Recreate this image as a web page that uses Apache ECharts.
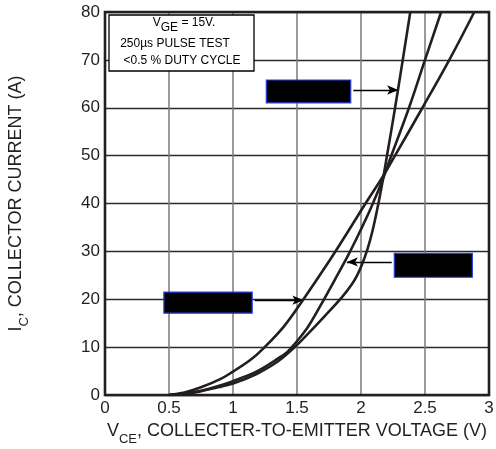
<!DOCTYPE html>
<html>
<head>
<meta charset="utf-8">
<script src="https://cdn.jsdelivr.net/npm/echarts@6/dist/echarts.min.js"></script>
<style>
html,body{margin:0;padding:0;background:#fff;}
#chart{width:496px;height:449px;}
</style>
</head>
<body>
<div id="chart"></div>
<script>
// Curve C (highest at low voltage, rightmost at top)
const curveC_x = [0.5, 0.62, 0.75, 0.9, 1.0, 1.135, 1.24, 1.4, 1.54, 1.757, 1.9, 2.04, 2.17, 2.27, 2.48, 2.69, 2.885];
const curveC_y = [0, 0.5, 1.6, 3.3, 4.9, 7.3, 9.8, 14.4, 19.6, 28.2, 34.2, 40.2, 45.6, 50.2, 60, 70, 80];
// Curve B (middle)
const curveB_x = [0.5, 0.62, 0.75, 0.9, 1.0, 1.135, 1.213, 1.35, 1.42, 1.47, 1.58, 1.68, 1.79, 1.90, 2.00, 2.08, 2.17, 2.23, 2.375, 2.50, 2.626];
const curveB_y = [0, 0.3, 0.9, 2.0, 2.9, 4.3, 5.3, 7.6, 8.9, 10.3, 14.0, 18.5, 23.8, 29.2, 34.6, 39.2, 45, 49.5, 60, 70, 80];
// Curve A (steepest)
const curveA_x = [0.5, 0.62, 0.75, 0.9, 1.0, 1.135, 1.213, 1.35, 1.47, 1.6, 1.72, 1.85, 1.93, 1.97, 2.01, 2.05, 2.09, 2.13, 2.17, 2.20, 2.265, 2.325, 2.385];
const curveA_y = [0, 0.2, 0.8, 1.7, 2.4, 3.8, 4.8, 7.0, 9.7, 13.2, 16.6, 20.4, 23.2, 25.0, 27.4, 30.4, 34.3, 39.2, 44.8, 49.5, 59.8, 69.8, 80];

const xTicks = ['0', '0.5', '1', '1.5', '2', '2.5', '3'];
const yTicks = ['0', '10', '20', '30', '40', '50', '60', '70', '80'];

function pairs(xs, ys) { return xs.map((x, i) => [x, ys[i]]); }

const ink = '#231f20';
const FONT = 'Liberation Sans, Arial, sans-serif';
const boxStyle = { color: '#000', borderColor: '#2a3fe0', borderWidth: 1.2, opacity: 1 };

const chart = echarts.init(document.getElementById('chart'));
const lineCommon = {
  type: 'line', showSymbol: false, smooth: 0.4,
  lineStyle: { color: ink, width: 2.6 }, z: 5, silent: true
};

const richName = {
  a: { fontSize: 18, color: ink, fontFamily: FONT, lineHeight: 24, verticalAlign: 'top' },
  s: { fontSize: 13, color: ink, fontFamily: FONT, lineHeight: 14, verticalAlign: 'bottom' }
};

chart.setOption({
  animation: false,
  backgroundColor: '#fff',
  grid: { left: 105, right: 7, top: 12, bottom: 54, show: false, containLabel: false, outerBoundsMode: 'none' },
  xAxis: {
    type: 'value', min: 0, max: 3, interval: 0.5,
    axisLine: { show: false },
    axisTick: { show: false },
    splitLine: { show: true, lineStyle: { color: '#7a7a7a', width: 1.5 } },
    axisLabel: {
      fontFamily: FONT, fontSize: 17, color: ink, margin: 5,
      formatter: v => xTicks[Math.round(v / 0.5)]
    },
    name: '{a|V}{s|CE}{a|, COLLECTER-TO-EMITTER VOLTAGE (V)}',
    nameLocation: 'middle', nameGap: 24,
    nameTextStyle: { fontFamily: FONT, color: ink, rich: richName }
  },
  yAxis: {
    type: 'value', min: 0, max: 80, interval: 10,
    axisLine: { show: false },
    axisTick: { show: false },
    splitLine: { show: true, lineStyle: { color: '#2a2a2a', width: 1.3 } },
    axisLabel: {
      fontFamily: FONT, fontSize: 17, color: ink, margin: 5,
      formatter: v => yTicks[Math.round(v / 10)]
    },
    name: '{a|I}{s|C}{a|, COLLECTOR CURRENT (A)}',
    nameLocation: 'middle', nameGap: 74, nameRotate: 90,
    nameTextStyle: { fontFamily: FONT, color: ink, rich: richName }
  },
  series: [
    Object.assign({}, lineCommon, { name: 'C', data: pairs(curveC_x, curveC_y) }),
    Object.assign({}, lineCommon, { name: 'B', data: pairs(curveB_x, curveB_y) }),
    Object.assign({}, lineCommon, {
      name: 'A', data: pairs(curveA_x, curveA_y),
      markArea: {
        silent: true,
        itemStyle: boxStyle,
        data: [
          [{ coord: [1.26, 65.8] }, { coord: [1.92, 61.0] }],
          [{ coord: [2.26, 29.6] }, { coord: [2.87, 24.6] }],
          [{ coord: [0.46, 21.5] }, { coord: [1.15, 17.1] }]
        ]
      },
      markLine: {
        silent: true,
        symbol: ['none', 'arrow'], symbolSize: [7, 11],
        label: { show: false },
        lineStyle: { color: '#000', width: 1.3, type: 'solid' },
        data: [
          [{ coord: [1.94, 63.7] }, { coord: [2.29, 63.7] }],
          [{ coord: [2.24, 27.8] }, { coord: [1.89, 27.8] }],
          [{ coord: [1.17, 19.8] }, { coord: [1.55, 19.8] }]
        ]
      }
    })
  ],
  graphic: [
    {
      type: 'rect', z: 50,
      shape: { x: 105, y: 12, width: 384, height: 383 },
      style: { fill: 'none', stroke: ink, lineWidth: 2.6 }
    },
    { type: 'rect', z: 60, shape: { x: 109, y: 15, width: 145, height: 56 },
      style: { fill: '#fff', stroke: '#000', lineWidth: 1.3 } },
    { type: 'text', z: 61, x: 184, y: 17,
      style: { text: '{a|V}{s|GE}{a| = 15V.}', align: 'center',
        rich: {
          a: { fontSize: 12, fill: '#000', fontFamily: FONT, lineHeight: 17, verticalAlign: 'top' },
          s: { fontSize: 12, fill: '#000', fontFamily: FONT, lineHeight: 12, verticalAlign: 'bottom' }
        } } },
    { type: 'text', z: 61, x: 175, y: 38,
      style: { text: '250µs PULSE TEST', align: 'center', fontSize: 12, fill: '#000', fontFamily: FONT } },
    { type: 'text', z: 61, x: 182, y: 55,
      style: { text: '<0.5 % DUTY CYCLE', align: 'center', fontSize: 12, fill: '#000', fontFamily: FONT } }
  ]
});
</script>
</body>
</html>
